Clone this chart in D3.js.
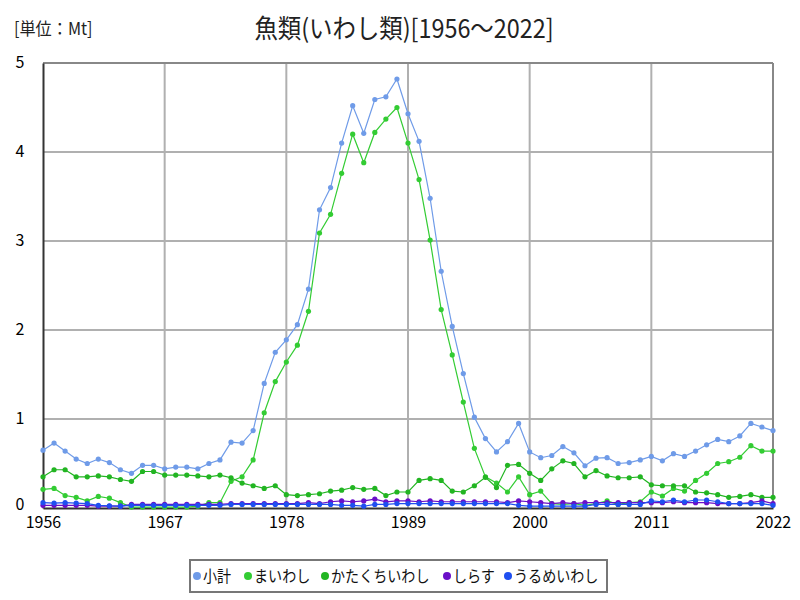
<!DOCTYPE html>
<html><head><meta charset="utf-8">
<script src="https://cdn.jsdelivr.net/npm/d3@7"></script>
<style>body{margin:0;background:#fff;} svg{display:block;}</style>
</head><body>
<svg id="c" width="800" height="600"></svg>
<script>
const years = d3.range(1956, 2023);
const xTicks = [1956, 1967, 1978, 1989, 2000, 2011, 2022];
const yTicks = [0, 1, 2, 3, 4, 5];
const seriesNames = ["小計", "まいわし", "かたくちいわし", "しらす", "うるめいわし"];
const subtotal = [0.65,0.73,0.64,0.55,0.50,0.55,0.51,0.43,0.39,0.48,0.48,0.44,0.46,0.46,0.44,0.50,0.54,0.74,0.73,0.87,1.40,1.75,1.89,2.06,2.46,3.35,3.60,4.10,4.52,4.21,4.59,4.62,4.82,4.43,4.12,3.48,2.66,2.04,1.51,1.02,0.78,0.63,0.745,0.95,0.63,0.565,0.59,0.69,0.62,0.475,0.56,0.565,0.50,0.51,0.54,0.58,0.53,0.61,0.58,0.64,0.71,0.77,0.745,0.81,0.95,0.91,0.87];
const maiwashi = [0.21,0.22,0.14,0.12,0.08,0.13,0.11,0.06,0.01,0.01,0.01,0.01,0.01,0.01,0.02,0.06,0.06,0.30,0.35,0.54,1.07,1.42,1.64,1.83,2.21,3.09,3.30,3.76,4.20,3.88,4.22,4.37,4.50,4.10,3.69,3.01,2.23,1.72,1.19,0.67,0.35,0.28,0.18,0.35,0.15,0.19,0.05,0.04,0.05,0.03,0.05,0.08,0.04,0.06,0.07,0.18,0.135,0.22,0.19,0.31,0.39,0.50,0.52,0.57,0.70,0.64,0.64];
const katakuchi = [0.35,0.43,0.43,0.35,0.35,0.36,0.35,0.32,0.30,0.41,0.41,0.37,0.37,0.37,0.36,0.35,0.37,0.34,0.28,0.25,0.22,0.25,0.15,0.14,0.15,0.16,0.19,0.20,0.23,0.21,0.22,0.14,0.18,0.18,0.31,0.33,0.31,0.19,0.18,0.25,0.345,0.23,0.48,0.49,0.39,0.31,0.44,0.53,0.50,0.35,0.42,0.36,0.34,0.34,0.35,0.26,0.25,0.25,0.25,0.18,0.17,0.15,0.12,0.13,0.15,0.12,0.12];
const shirasu = [0.03,0.03,0.03,0.03,0.03,0.02,0.02,0.02,0.04,0.04,0.04,0.04,0.04,0.04,0.04,0.04,0.04,0.05,0.05,0.05,0.05,0.05,0.05,0.05,0.06,0.05,0.07,0.08,0.07,0.08,0.10,0.07,0.08,0.08,0.07,0.08,0.07,0.07,0.07,0.07,0.07,0.07,0.06,0.08,0.07,0.06,0.05,0.06,0.05,0.06,0.06,0.06,0.06,0.06,0.06,0.06,0.06,0.07,0.06,0.06,0.06,0.05,0.05,0.05,0.06,0.08,0.05];
const urume = [0.06,0.055,0.06,0.055,0.05,0.03,0.025,0.02,0.03,0.03,0.03,0.03,0.03,0.03,0.03,0.03,0.03,0.04,0.04,0.04,0.04,0.04,0.04,0.04,0.04,0.04,0.04,0.03,0.03,0.02,0.04,0.04,0.05,0.05,0.05,0.05,0.05,0.05,0.05,0.05,0.05,0.05,0.05,0.03,0.02,0.02,0.02,0.02,0.02,0.02,0.04,0.04,0.04,0.04,0.04,0.08,0.07,0.09,0.07,0.09,0.09,0.07,0.05,0.05,0.05,0.05,0.03];
const colors = ["#6f9be8", "#33cc33", "#22b522", "#6a0fc8", "#1f4ff0"];
const allSeries = [subtotal, maiwashi, katakuchi, shirasu, urume];

const svg = d3.select("#c");
const L = 43, R = 773, T = 63, B = 508;
const x = d3.scaleLinear().domain([1956, 2022]).range([L, R]);
const y = d3.scaleLinear().domain([0, 5]).range([B, T]);
const font = "'Noto Sans CJK JP', 'Noto Sans', sans-serif";

function sText(g, tx, ty, str, size, sx, anchor) {
  return g.append("text")
    .attr("transform", `translate(${tx},${ty}) scale(${sx},1)`)
    .attr("text-anchor", anchor || "start")
    .attr("font-family", font).attr("font-size", size).attr("fill", "#111")
    .text(str);
}

// grid
svg.append("g").selectAll("line").data(xTicks.slice(1, -1)).join("line")
  .attr("x1", d => x(d)).attr("x2", d => x(d)).attr("y1", T).attr("y2", B)
  .attr("stroke", "#b0b0b0").attr("stroke-width", 2);
svg.append("g").selectAll("line").data(yTicks.slice(1, -1)).join("line")
  .attr("x1", L).attr("x2", R).attr("y1", d => y(d)).attr("y2", d => y(d))
  .attr("stroke", "#b0b0b0").attr("stroke-width", 2);
// border
svg.append("line").attr("x1", L).attr("x2", R).attr("y1", T).attr("y2", T).attr("stroke", "#888").attr("stroke-width", 2);
svg.append("line").attr("x1", R).attr("x2", R).attr("y1", T).attr("y2", B).attr("stroke", "#888").attr("stroke-width", 2);

// axes
const xAxis = svg.append("g").attr("transform", `translate(0,${B})`)
  .call(d3.axisBottom(x).tickValues(xTicks).tickFormat(d3.format("d")).tickSize(0).tickPadding(9));
const yAxis = svg.append("g").attr("transform", `translate(${L},0)`)
  .call(d3.axisLeft(y).tickValues(yTicks).tickFormat(d3.format("d")).tickSize(0).tickPadding(23));
[xAxis, yAxis].forEach(a => {
  a.select(".domain").attr("stroke", "#333").attr("stroke-width", 2);
  a.selectAll("text").attr("font-family", font).attr("font-size", 16).attr("fill", "#000");
});
yAxis.selectAll("text").attr("text-anchor", "middle").attr("dy", "0.3em");
yAxis.selectAll(".tick").filter(d => d === 0).select("text").attr("dy", "0.1em");

// series
const line = d3.line().x((d, i) => x(years[i])).y(d => y(d));
allSeries.forEach((s, k) => {
  const g = svg.append("g");
  g.append("path").datum(s).attr("d", line).attr("fill", "none").attr("stroke", colors[k]).attr("stroke-width", 1.2);
  g.selectAll("circle").data(s).join("circle")
    .attr("cx", (d, i) => x(years[i])).attr("cy", d => y(d)).attr("r", 2.6).attr("fill", colors[k]);
});

// title
sText(svg, 404, 38, "魚類(いわし類)[1956〜2022]", 26, 0.9, "middle").attr("fill", "#222");
sText(svg, 14, 35, "[単位：Mt]", 17, 0.95, "start").attr("fill", "#222");

// legend
const lg = svg.append("g");
lg.append("rect").attr("x", 190).attr("y", 560).attr("width", 417).attr("height", 32)
  .attr("fill", "#fff").attr("stroke", "#777").attr("stroke-width", 2);
const lx = [197, 248, 325, 447, 508];
seriesNames.forEach((n, k) => {
  lg.append("circle").attr("cx", lx[k]).attr("cy", 576).attr("r", 4).attr("fill", colors[k]);
  sText(lg, lx[k] + 6, 582, n, 16, 0.88, "start");
});
</script>
</body></html>
